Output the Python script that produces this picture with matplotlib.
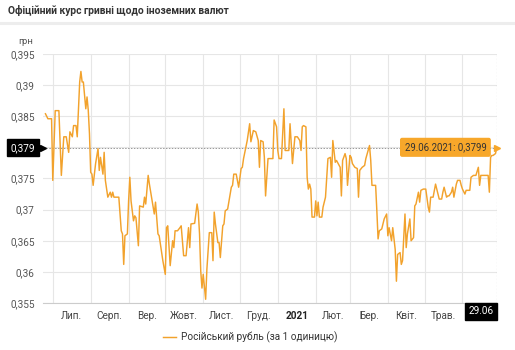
import math
import matplotlib
matplotlib.use("Agg")
import matplotlib.pyplot as plt
from matplotlib.lines import Line2D
import pandas as pd

plt.rcParams['font.family'] = ['Roboto', 'DejaVu Sans']

title = "Офіційний курс гривні щодо іноземних валют"
unit = "грн"
series_name = "Російський рубль (за 1 одиницю)"

month_starts = ["2020-07-01", "2020-08-01", "2020-09-01", "2020-10-01", "2020-11-01",
                "2020-12-01", "2021-01-01", "2021-02-01", "2021-03-01", "2021-04-01",
                "2021-05-01", "2021-06-01"]
month_labels = ["Лип.", "Серп.", "Вер.", "Жовт.", "Лист.", "Груд.", "2021",
                "Лют.", "Бер.", "Квіт.", "Трав."]
y_ticks = [0.355, 0.36, 0.365, 0.37, 0.375, 0.38, 0.385, 0.39, 0.395]

dates = [
    "2020-06-25", "2020-06-27", "2020-06-30", "2020-07-01", "2020-07-03", "2020-07-06",
    "2020-07-08", "2020-07-10", "2020-07-12", "2020-07-14", "2020-07-15", "2020-07-17",
    "2020-07-18", "2020-07-20", "2020-07-21", "2020-07-23", "2020-07-24", "2020-07-25",
    "2020-07-26", "2020-07-28", "2020-07-29", "2020-07-30", "2020-07-31", "2020-08-01",
    "2020-08-02", "2020-08-03", "2020-08-05", "2020-08-07", "2020-08-08", "2020-08-09",
    "2020-08-11", "2020-08-12", "2020-08-13", "2020-08-15", "2020-08-17", "2020-08-18",
    "2020-08-19", "2020-08-20", "2020-08-24", "2020-08-26", "2020-08-27", "2020-08-28",
    "2020-08-29", "2020-08-31", "2020-09-01", "2020-09-02", "2020-09-03", "2020-09-05",
    "2020-09-06", "2020-09-07", "2020-09-09", "2020-09-10", "2020-09-13", "2020-09-14",
    "2020-09-15", "2020-09-17", "2020-09-18", "2020-09-22", "2020-09-23", "2020-09-25",
    "2020-09-26", "2020-09-29", "2020-10-01", "2020-10-02", "2020-10-03", "2020-10-05",
    "2020-10-07", "2020-10-08", "2020-10-09", "2020-10-11", "2020-10-13", "2020-10-14",
    "2020-10-16", "2020-10-18", "2020-10-20", "2020-10-21", "2020-10-22", "2020-10-25",
    "2020-10-27", "2020-10-28", "2020-10-29", "2020-10-30", "2020-10-31", "2020-11-01",
    "2020-11-03", "2020-11-04", "2020-11-06", "2020-11-08", "2020-11-09", "2020-11-10",
    "2020-11-11", "2020-11-13", "2020-11-14", "2020-11-15", "2020-11-17", "2020-11-18",
    "2020-11-19", "2020-11-21", "2020-11-24", "2020-11-25", "2020-11-26", "2020-11-28",
    "2020-11-30", "2020-12-02", "2020-12-03", "2020-12-04", "2020-12-07", "2020-12-09",
    "2020-12-10", "2020-12-12", "2020-12-14", "2020-12-16", "2020-12-17", "2020-12-18",
    "2020-12-20", "2020-12-21", "2020-12-22", "2020-12-24", "2020-12-28", "2020-12-29",
    "2020-12-31", "2021-01-01", "2021-01-02", "2021-01-04", "2021-01-06", "2021-01-07",
    "2021-01-10", "2021-01-11", "2021-01-13", "2021-01-15", "2021-01-17", "2021-01-19",
    "2021-01-20", "2021-01-21", "2021-01-22", "2021-01-24", "2021-01-25", "2021-01-26",
    "2021-01-27", "2021-01-28", "2021-01-29", "2021-01-31", "2021-02-01", "2021-02-02",
    "2021-02-03", "2021-02-04", "2021-02-06", "2021-02-07", "2021-02-09", "2021-02-10",
    "2021-02-11", "2021-02-13", "2021-02-14", "2021-02-15", "2021-02-17", "2021-02-18",
    "2021-02-21", "2021-02-22", "2021-02-23", "2021-02-25", "2021-02-26", "2021-02-27",
    "2021-03-01", "2021-03-02", "2021-03-03", "2021-03-05", "2021-03-07", "2021-03-08",
    "2021-03-09", "2021-03-11", "2021-03-13", "2021-03-14", "2021-03-17", "2021-03-18",
    "2021-03-19", "2021-03-22", "2021-03-23", "2021-03-24", "2021-03-25", "2021-03-27",
    "2021-03-29", "2021-03-31", "2021-04-01", "2021-04-02", "2021-04-04", "2021-04-05",
    "2021-04-07", "2021-04-08", "2021-04-09", "2021-04-11", "2021-04-12", "2021-04-13",
    "2021-04-15", "2021-04-16", "2021-04-17", "2021-04-19", "2021-04-20", "2021-04-22",
    "2021-04-23", "2021-04-24", "2021-04-26", "2021-04-27", "2021-04-28", "2021-04-30",
    "2021-05-02", "2021-05-04", "2021-05-05", "2021-05-06", "2021-05-08", "2021-05-10",
    "2021-05-12", "2021-05-13", "2021-05-15", "2021-05-16", "2021-05-17", "2021-05-19",
    "2021-05-20", "2021-05-21", "2021-05-23", "2021-05-24", "2021-05-25", "2021-05-27",
    "2021-05-28", "2021-05-30", "2021-05-31", "2021-06-01", "2021-06-03", "2021-06-04",
    "2021-06-07", "2021-06-08", "2021-06-10", "2021-06-12", "2021-06-14", "2021-06-15",
    "2021-06-16", "2021-06-18", "2021-06-20", "2021-06-22", "2021-06-23", "2021-06-24",
    "2021-06-25", "2021-06-26", "2021-06-28", "2021-06-29",
]
values = [
    0.3854, 0.3846, 0.3846, 0.3747, 0.3859, 0.3859,
    0.3755, 0.3817, 0.3817, 0.3792, 0.3825, 0.3817,
    0.3835, 0.3835, 0.3817, 0.3905, 0.3922, 0.3905,
    0.3905, 0.3862, 0.3881, 0.3860, 0.3822, 0.3760,
    0.3757, 0.3739, 0.3774, 0.3798, 0.3763, 0.3784,
    0.3757, 0.3792, 0.3747, 0.3720, 0.3728, 0.3720,
    0.3728, 0.3720, 0.3720, 0.3666, 0.3661, 0.3612,
    0.3658, 0.3661, 0.3714, 0.3752, 0.3714, 0.3682,
    0.3690, 0.3687, 0.3642, 0.3706, 0.3704, 0.3720,
    0.3709, 0.3755, 0.3741, 0.3693, 0.3712, 0.3661,
    0.3658, 0.3618, 0.3596, 0.3671, 0.3674, 0.3610,
    0.3650, 0.3639, 0.3666, 0.3666, 0.3671, 0.3674,
    0.3626, 0.3626, 0.3671, 0.3639, 0.3677, 0.3678,
    0.3709, 0.3696, 0.3661, 0.3601, 0.3574, 0.3596,
    0.3556, 0.3604, 0.3663, 0.3663, 0.3618, 0.3696,
    0.3677, 0.3647, 0.3647, 0.3623, 0.3674, 0.3677,
    0.3698, 0.3701, 0.3736, 0.3739, 0.3757, 0.3757,
    0.3736, 0.3766, 0.3768, 0.3782, 0.3811, 0.3838,
    0.3809, 0.3827, 0.3825, 0.3811, 0.3768, 0.3811,
    0.3809, 0.3784, 0.3722, 0.3782, 0.3782, 0.3844,
    0.3833, 0.3795, 0.3782, 0.3782, 0.3862, 0.3795,
    0.3795, 0.3838, 0.3774, 0.3817, 0.3817, 0.3811,
    0.3795, 0.3833, 0.3835, 0.3833, 0.3752, 0.3733,
    0.3741, 0.3733, 0.3688, 0.3688, 0.3714, 0.3690,
    0.3712, 0.3688, 0.3688, 0.3704, 0.3720, 0.3752,
    0.3782, 0.3784, 0.3752, 0.3811, 0.3776, 0.3779,
    0.3768, 0.3722, 0.3779, 0.3790, 0.3782, 0.3739,
    0.3787, 0.3784, 0.3774, 0.3768, 0.3766, 0.3720,
    0.3763, 0.3768, 0.3771, 0.3782, 0.3803, 0.3779,
    0.3739, 0.3739, 0.3698, 0.3653, 0.3666, 0.3669,
    0.3685, 0.3693, 0.3658, 0.3671, 0.3650, 0.3671,
    0.3636, 0.3585, 0.3628, 0.3631, 0.3612, 0.3618,
    0.3693, 0.3639, 0.3661, 0.3685, 0.3650, 0.3655,
    0.3706, 0.3709, 0.3728, 0.3712, 0.3731, 0.3733,
    0.3733, 0.3704, 0.3696, 0.3720, 0.3720, 0.3741,
    0.3725, 0.3717, 0.3717, 0.3728, 0.3736, 0.3720,
    0.3722, 0.3722, 0.3728, 0.3736, 0.3720, 0.3741,
    0.3747, 0.3747, 0.3739, 0.3733, 0.3725, 0.3731,
    0.3731, 0.3752, 0.3755, 0.3755, 0.3768, 0.3739,
    0.3755, 0.3755, 0.3755, 0.3755, 0.3728, 0.3784,
    0.3787, 0.3787, 0.3790, 0.3799,
]

W, H = 515, 350
line_color = "#F2A22C"
tip_color = "#F7A72A"
grid_color = "#E6E6E6"
text_color = "#555555"

d = pd.to_datetime(dates)
fig = plt.figure(figsize=(W / 100, H / 100), dpi=100)
fig.patch.set_facecolor("white")

ax = fig.add_axes([43 / W, 47 / H, 454 / W, 249 / H])
ax.plot(d, values, color=line_color, lw=1.05, label=series_name, zorder=3)

x0 = pd.Timestamp("2020-06-23")
x1 = d[-1] + pd.Timedelta(hours=6)
ax.set_xlim(x0, x1)
ax.set_ylim(y_ticks[0], y_ticks[-1])

ms = pd.to_datetime(month_starts)
ax.set_xticks(ms)
ax.set_xticklabels([])
mids = [ms[i] + (ms[i + 1] - ms[i]) / 2 for i in range(len(month_labels))]
ax.set_xticks(mids, minor=True)
ax.set_xticklabels(month_labels, minor=True)
ax.tick_params(axis="x", which="both", length=0)
ax.tick_params(axis="x", which="minor", pad=5.5, labelsize=7.2, labelcolor="#444444")
for lbl in ax.get_xticklabels(minor=True):
    if lbl.get_text() == "2021":
        lbl.set_fontweight("bold")
        lbl.set_color("#222222")

ax.set_yticks(y_ticks)
last_val = values[-1]
ylabels = []
for t in y_ticks:
    s = ("%.3f" % t).rstrip("0").replace(".", ",")
    ylabels.append("" if abs(t - 0.38) < 1e-9 else s)
ax.set_yticklabels(ylabels)
ax.tick_params(axis="y", length=0, pad=6, labelsize=7.2, labelcolor=text_color)
ax.grid(True, which="major", color=grid_color, lw=0.8)
ax.set_axisbelow(True)
for sp in ["top", "right", "left"]:
    ax.spines[sp].set_visible(False)
ax.spines["bottom"].set_color("#CCCCCC")
ax.spines["bottom"].set_linewidth(0.8)

ax.axhline(last_val, color="#999999", lw=0.7, ls=(0, (1.5, 1.5)), zorder=2)
ax.axvline(d[-1], color="#AAAAAA", lw=0.8, ls=(0, (1.5, 1.5)), zorder=2)

trunc = math.floor(last_val * 1000) / 1000
ax.annotate(("%.3f" % trunc).replace(".", ","), xy=(0, last_val),
            xycoords=("axes fraction", "data"), xytext=(-5.5, 0), textcoords="offset points",
            ha="right", va="center", fontsize=7.2, color="white", zorder=10,
            bbox=dict(boxstyle="square,pad=0.35", fc="black", ec="black"), annotation_clip=False)
ax.plot([0], [last_val], transform=ax.get_yaxis_transform(), marker=">", ms=4,
        color="black", clip_on=False, zorder=10)

ax.annotate(d[-1].strftime("%d.%m"), xy=(d[-1], 0), xycoords=("data", "axes fraction"),
            xytext=(-2.5, -2.5), textcoords="offset points", ha="right", va="top",
            fontsize=7.2, color="white", zorder=10,
            bbox=dict(boxstyle="square,pad=0.35", fc="black", ec="black"), annotation_clip=False)

tip = "%s: %s" % (d[-1].strftime("%d.%m.%Y"), ("%.4f" % last_val).replace(".", ","))
ax.annotate(tip, xy=(d[-1], last_val), xytext=(-7.5, 0.5), textcoords="offset points",
            ha="right", va="center", fontsize=6.9, color="#333333", zorder=11,
            bbox=dict(boxstyle="round,pad=0.4,rounding_size=0.15", fc=tip_color, ec=tip_color),
            annotation_clip=False)
ax.plot([d[-1]], [last_val], marker=">", ms=4, color=tip_color, clip_on=False, zorder=11)

fig.text(8 / W, 1 - 10 / H, title, ha="left", va="center", fontsize=7.4,
         fontweight="bold", color="#333333")
fig.add_artist(Line2D([0, 1], [1 - 23 / H, 1 - 23 / H], color="#EDEDED", lw=2.2))
fig.text(18 / W, 1 - 42 / H, unit, ha="left", va="center", fontsize=6.8, color=text_color)

leg = ax.legend(loc="center", bbox_to_anchor=(250 / W, 1 - 337 / H),
                bbox_transform=fig.transFigure, frameon=False, fontsize=7.2,
                handlelength=1.3, handletextpad=0.5)
for t in leg.get_texts():
    t.set_color("#333333")

fig.savefig("out.png", dpi=100, facecolor="white")
